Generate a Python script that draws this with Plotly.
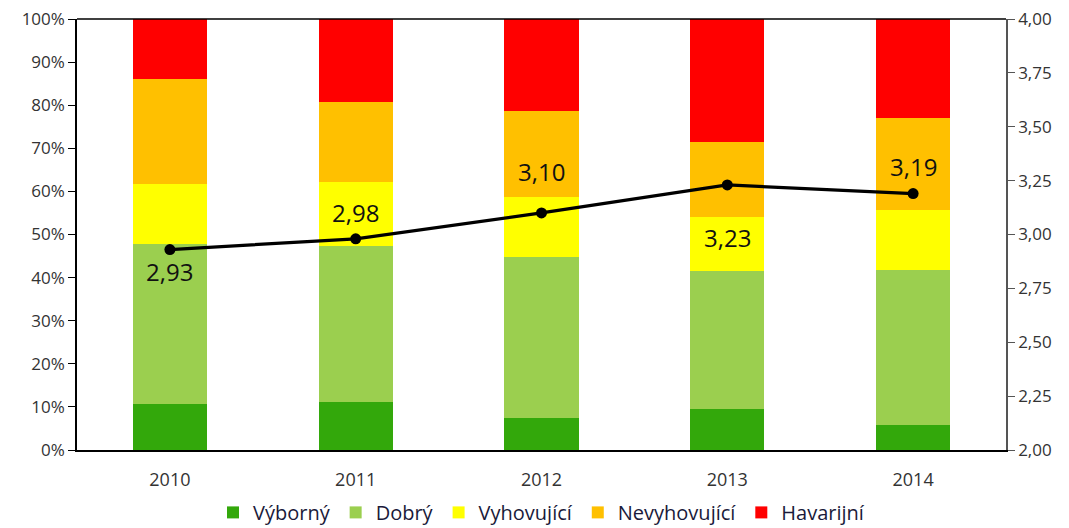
import plotly.graph_objects as go

years = ["2010", "2011", "2012", "2013", "2014"]
vyborny = [10.7, 11.1, 7.4, 9.5, 5.8]
dobry = [37.1, 36.2, 37.4, 32.0, 36.0]
vyhovujici = [13.9, 14.9, 13.9, 12.6, 13.9]
nevyhovujici = [24.4, 18.5, 20.0, 17.4, 21.3]
havarijni = [13.9, 19.3, 21.3, 28.5, 23.0]
prumer = [2.93, 2.98, 3.10, 3.23, 3.19]
pct_ticks = list(range(0, 101, 10))
pct_labels = [f"{t}%" for t in pct_ticks]
idx_ticks = [2.0, 2.25, 2.5, 2.75, 3.0, 3.25, 3.5, 3.75, 4.0]
idx_labels = [f"{t:.2f}".replace(".", ",") for t in idx_ticks]

series = [
    ("Výborný", vyborny, "#33A80B"),
    ("Dobrý", dobry, "#9BCF4F"),
    ("Vyhovující", vyhovujici, "#FFFF00"),
    ("Nevyhovující", nevyhovujici, "#FFC000"),
    ("Havarijní", havarijni, "#FF0000"),
]

label_shift = [-22, 26, 41, -53, 27]
xpos = list(range(len(years)))

fig = go.Figure()
for name, vals, col in series:
    fig.add_trace(go.Bar(x=xpos, y=vals, name=name, marker=dict(color=col, line=dict(width=0)),
                         width=0.4))

fig.add_trace(go.Scatter(x=xpos, y=prumer, yaxis="y2", mode="lines+markers",
                         line=dict(color="black", width=3.2), marker=dict(color="black", size=11),
                         showlegend=False))

for xi, v, s in zip(xpos, prumer, label_shift):
    fig.add_annotation(x=xi, y=v, xref="x", yref="y2", text=f"{v:.2f}".replace(".", ","),
                       showarrow=False, yshift=s,
                       font=dict(size=24, color="#111111", family="Open Sans"))

fig.update_layout(
    barmode="stack",
    width=1061, height=520,
    margin=dict(l=69, r=63, t=11, b=78),
    plot_bgcolor="white", paper_bgcolor="white",
    font=dict(family="Open Sans", size=17, color="#333333"),
    xaxis=dict(range=[-0.5, 4.5], tickvals=xpos, ticktext=years, showline=True, linecolor="black",
               linewidth=1.5, ticks="outside", ticklen=13, tickcolor="rgba(0,0,0,0)",
               tickfont=dict(size=18), automargin=False, showgrid=False, zeroline=False),
    yaxis=dict(range=[0, 100], tickvals=pct_ticks, ticktext=pct_labels, showgrid=False,
               showline=True, linecolor="black", linewidth=1.5, ticks="outside", ticklen=7,
               tickcolor="black", zeroline=False, automargin=False, tickfont=dict(size=17),
               ticklabeloverflow="allow"),
    yaxis2=dict(range=[2, 4], tickvals=idx_ticks, ticktext=idx_labels, overlaying="y", side="right",
                showgrid=False, showline=True, linecolor="#555555", linewidth=1.5, ticks="outside",
                ticklen=7, tickcolor="#555555", zeroline=False, automargin=False,
                tickfont=dict(size=17), ticklabeloverflow="allow"),
    legend=dict(orientation="h", x=0.5, xanchor="center", yref="container", y=0.03,
                yanchor="middle", font=dict(size=20, color="#1a1a3a"), traceorder="normal",
                itemwidth=30),
    shapes=[dict(type="line", xref="paper", yref="paper", x0=0, x1=1, y0=1, y1=1,
                 line=dict(color="black", width=1.5))],
)

fig.write_html("out.html")
